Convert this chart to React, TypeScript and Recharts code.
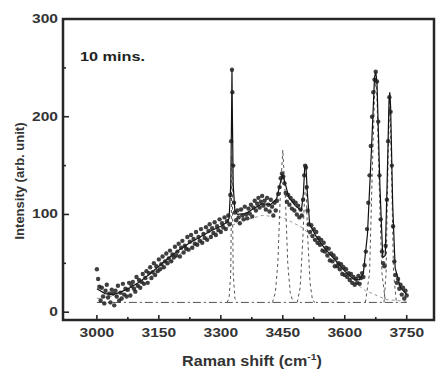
import {
  ComposedChart,
  Scatter,
  Line,
  XAxis,
  YAxis,
  ReferenceArea,
} from 'recharts';

// Raman spectrum after 10 mins: measured points (x = Raman shift, y = intensity)
const measured: [number, number][] = [
  [3000, 44], [3003, 34], [3006, 26], [3009, 12], [3012, 25], [3015, 16], [3018, 9], [3021, 22],
  [3024, 28], [3027, 15], [3030, 19], [3033, 10], [3036, 23], [3039, 19], [3042, 7], [3045, 22],
  [3048, 16], [3051, 27], [3054, 12], [3057, 20], [3060, 14], [3063, 29], [3066, 18], [3069, 24],
  [3072, 16], [3075, 23], [3078, 30], [3081, 17], [3084, 27], [3087, 31], [3090, 24], [3093, 21],
  [3096, 36], [3099, 27], [3102, 33], [3105, 25], [3108, 31], [3111, 39], [3114, 29], [3117, 35],
  [3120, 42], [3123, 30], [3126, 40], [3129, 46], [3132, 35], [3135, 41], [3138, 50], [3141, 38],
  [3144, 47], [3147, 42], [3150, 54], [3153, 44], [3156, 49], [3159, 57], [3162, 46], [3165, 52],
  [3168, 60], [3171, 50], [3174, 55], [3177, 63], [3180, 52], [3183, 59], [3186, 56], [3189, 67],
  [3192, 58], [3195, 62], [3198, 70], [3201, 57], [3204, 66], [3207, 73], [3210, 61], [3213, 68],
  [3216, 65], [3219, 77], [3222, 64], [3225, 72], [3228, 79], [3231, 66], [3234, 75], [3237, 70],
  [3240, 82], [3243, 69], [3246, 77], [3249, 73], [3252, 85], [3255, 71], [3258, 80], [3261, 76],
  [3264, 87], [3267, 74], [3270, 83], [3273, 90], [3276, 77], [3279, 86], [3282, 81], [3285, 92],
  [3288, 79], [3291, 88], [3294, 84], [3297, 95], [3300, 82], [3303, 91], [3306, 87], [3309, 97],
  [3312, 85], [3315, 93], [3318, 99], [3321, 90], [3323, 120], [3325, 175], [3327, 248], [3328, 225],
  [3330, 150], [3332, 112], [3334, 102], [3337, 94], [3340, 104], [3343, 97], [3346, 91], [3349, 105],
  [3352, 99], [3355, 95], [3358, 108], [3361, 100], [3364, 96], [3367, 106], [3370, 101], [3373, 110],
  [3376, 98], [3379, 107], [3382, 114], [3385, 104], [3388, 111], [3391, 117], [3394, 107], [3397, 113],
  [3400, 119], [3403, 109], [3406, 114], [3409, 105], [3412, 117], [3415, 110], [3418, 103], [3421, 115],
  [3424, 108], [3427, 99], [3430, 112], [3433, 104], [3436, 114], [3439, 121], [3442, 128], [3445, 137],
  [3448, 142], [3451, 139], [3454, 132], [3457, 122], [3460, 113], [3463, 120], [3466, 110], [3469, 117],
  [3472, 106], [3475, 114], [3478, 104], [3481, 112], [3484, 100], [3487, 109], [3490, 97], [3493, 105],
  [3496, 99], [3499, 115], [3502, 140], [3504, 150], [3506, 148], [3508, 128], [3510, 104], [3513, 90],
  [3516, 82], [3519, 89], [3522, 78], [3525, 85], [3528, 74], [3531, 82], [3534, 71], [3537, 76],
  [3540, 69], [3543, 74], [3546, 63], [3549, 71], [3552, 62], [3555, 66], [3558, 58], [3561, 65],
  [3564, 53], [3567, 60], [3570, 52], [3573, 58], [3576, 47], [3579, 55], [3582, 47], [3585, 50],
  [3588, 44], [3591, 49], [3594, 39], [3597, 46], [3600, 38], [3603, 44], [3606, 36], [3609, 40],
  [3612, 33], [3615, 39], [3618, 30], [3621, 36], [3624, 28], [3627, 34], [3630, 30], [3633, 37],
  [3636, 29], [3639, 35], [3642, 40], [3645, 36], [3648, 48], [3651, 62], [3654, 85], [3657, 112],
  [3660, 140], [3663, 170], [3666, 200], [3669, 225], [3672, 238], [3675, 246], [3678, 236], [3681, 195],
  [3684, 140], [3687, 95], [3690, 62], [3693, 50], [3696, 47], [3699, 68], [3702, 115], [3705, 175],
  [3708, 220], [3711, 205], [3714, 150], [3717, 88], [3720, 52], [3723, 38], [3726, 30], [3729, 34],
  [3732, 24], [3735, 28], [3738, 18], [3741, 25], [3744, 14], [3747, 22], [3750, 17],
];

// total fit (solid line)
const fitTotal: [number, number][] = [
  [3000, 24], [3020, 19], [3040, 18], [3060, 21], [3080, 25], [3100, 30], [3125, 38], [3150, 47],
  [3175, 56], [3200, 64], [3225, 71], [3250, 77], [3275, 83], [3300, 88], [3315, 92], [3320, 96],
  [3324, 130], [3326, 200], [3327, 248], [3328, 200], [3330, 130], [3334, 104], [3340, 100], [3360, 101],
  [3380, 106], [3400, 111], [3420, 110], [3435, 116], [3445, 134], [3450, 140], [3455, 133], [3465, 117],
  [3480, 109], [3495, 104], [3500, 122], [3503, 148], [3506, 150], [3509, 125], [3515, 90], [3530, 78],
  [3550, 66], [3575, 54], [3600, 42], [3620, 34], [3635, 33], [3645, 40], [3655, 80], [3665, 170],
  [3672, 240], [3675, 246], [3678, 235], [3685, 130], [3692, 56], [3698, 58], [3703, 140], [3707, 215],
  [3709, 225], [3711, 210], [3716, 110], [3722, 45], [3735, 25], [3750, 18],
];

// fitted components (dashed)
const baseline: [number, number][] = [[3000, 10], [3750, 10]];
const broadBand: [number, number][] = [
  [3000, 14], [3050, 17], [3100, 27], [3150, 43], [3200, 59], [3250, 73], [3300, 84], [3350, 93],
  [3400, 99], [3450, 97], [3500, 86], [3550, 62], [3600, 38], [3650, 22], [3700, 13], [3750, 11],
];
const peak3327: [number, number][] = [
  [3315, 10], [3320, 14], [3324, 40], [3326, 120], [3327, 160], [3328, 120], [3330, 40], [3334, 14], [3340, 10],
];
const peak3450: [number, number][] = [
  [3425, 10], [3432, 20], [3438, 50], [3444, 120], [3450, 166], [3456, 120], [3462, 50], [3468, 20], [3475, 10],
];
const peak3505: [number, number][] = [
  [3485, 10], [3492, 25], [3498, 70], [3503, 120], [3506, 130], [3510, 80], [3516, 30], [3522, 12], [3528, 10],
];
const peak3675: [number, number][] = [
  [3650, 10], [3660, 40], [3667, 150], [3672, 220], [3675, 240], [3678, 220], [3684, 120], [3690, 40], [3698, 12],
];
const peak3709: [number, number][] = [
  [3695, 10], [3700, 40], [3705, 160], [3709, 218], [3713, 150], [3718, 40], [3725, 10],
];

const xTicks = [3000, 3075, 3150, 3225, 3300, 3375, 3450, 3525, 3600, 3675, 3750];
const xLabelled = [3000, 3150, 3300, 3450, 3600, 3750];
const yTicks = [0, 50, 100, 150, 200, 250, 300];
const yLabelled = [0, 100, 200, 300];

const toRows = (pts: [number, number][]) => pts.map(([x, y]) => ({ x, y }));

const FONT = '"Liberation Sans", Arial, sans-serif';
const INK = '#262626';

function XTick({ x, y, payload }: any) {
  const major = xLabelled.includes(payload.value);
  return (
    <g>
      <line x1={x} x2={x} y1={y} y2={y - (major ? 5 : 3)} stroke={INK} strokeWidth={1.6} />
      {major && (
        <text
          transform={`translate(${x},${y + 17}) scale(1.3,1)`}
          textAnchor="middle"
          fontFamily={FONT}
          fontWeight="bold"
          fontSize={12}
          fill="#333"
        >
          {payload.value}
        </text>
      )}
    </g>
  );
}

function YTick({ x, y, payload }: any) {
  const major = yLabelled.includes(payload.value);
  return (
    <g>
      <line x1={x} x2={x + (major ? 6 : 3)} y1={y} y2={y} stroke={INK} strokeWidth={1.6} />
      {major && (
        <text
          transform={`translate(${x - 5},${y + 4}) scale(1.3,1)`}
          textAnchor="end"
          fontFamily={FONT}
          fontWeight="bold"
          fontSize={12}
          fill="#333"
        >
          {payload.value}
        </text>
      )}
    </g>
  );
}

const dot = (props: any) => <circle cx={props.cx} cy={props.cy} r={2.2} fill="#1e1e1e" fillOpacity={0.85} />;

export default function App() {
  const dashed = { stroke: '#555', strokeWidth: 1, strokeDasharray: '3 3', dot: false, isAnimationActive: false, type: 'linear' as const };
  return (
    <div style={{ position: 'absolute', left: 0, top: 0, width: 436, height: 376, background: '#fff' }}>
      <ComposedChart width={436} height={376} margin={{ top: 19, right: 2, bottom: 0, left: 0 }}>
        <XAxis
          type="number"
          dataKey="x"
          domain={[2918, 3816]}
          ticks={xTicks}
          interval={0}
          height={56}
          axisLine={false}
          tickLine={false}
          tickSize={0}
          tickMargin={0}
          tick={<XTick />}
        />
        <YAxis
          type="number"
          dataKey="y"
          domain={[-8, 300]}
          ticks={yTicks}
          interval={0}
          width={63}
          axisLine={false}
          tickLine={false}
          tickSize={0}
          tickMargin={0}
          tick={<YTick />}
        />
        <Line data={toRows(baseline)} dataKey="y" {...dashed} strokeDasharray="8 3 2 3" />
        <Line data={toRows(broadBand)} dataKey="y" {...dashed} stroke="#999" />
        <Line data={toRows(peak3327)} dataKey="y" {...dashed} />
        <Line data={toRows(peak3450)} dataKey="y" {...dashed} />
        <Line data={toRows(peak3505)} dataKey="y" {...dashed} />
        <Line data={toRows(peak3675)} dataKey="y" {...dashed} />
        <Line data={toRows(peak3709)} dataKey="y" {...dashed} />
        <Scatter data={toRows(measured)} dataKey="y" shape={dot} isAnimationActive={false} />
        <Line data={toRows(fitTotal)} dataKey="y" type="linear" stroke="#111" strokeWidth={1.2} dot={false} isAnimationActive={false} />
        <ReferenceArea x1={2918} x2={3816} y1={-8} y2={300} fill="none" stroke={INK} strokeWidth={2.5} ifOverflow="visible" />
      </ComposedChart>
      <div style={{ position: 'absolute', left: 80, top: 49, fontFamily: FONT, fontWeight: 'bold', fontSize: 13, color: '#222', transform: 'scaleX(1.25)', transformOrigin: 'left center', whiteSpace: 'nowrap' }}>
        10 mins.
      </div>
      <div style={{ position: 'absolute', left: 252, top: 352, fontFamily: FONT, fontWeight: 'bold', fontSize: 14, color: '#333', transform: 'translateX(-50%) scaleX(1.15)', whiteSpace: 'nowrap' }}>
        Raman shift (cm<sup style={{ fontSize: 9 }}>-1</sup>)
      </div>
      <div style={{ position: 'absolute', left: 19, top: 181, fontFamily: FONT, fontWeight: 'bold', fontSize: 13, color: '#333', transform: 'translate(-50%,-50%) rotate(-90deg)', whiteSpace: 'nowrap' }}>
        Intensity (arb. unit)
      </div>
    </div>
  );
}
